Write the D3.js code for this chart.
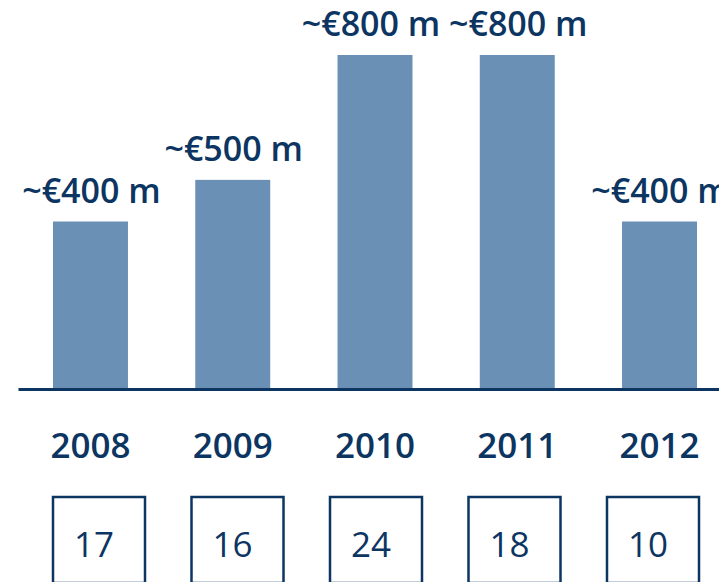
<!DOCTYPE html>
<html>
<head>
<meta charset="utf-8">
<script src="https://cdn.jsdelivr.net/npm/d3@7"></script>
<style>
  body { margin: 0; background: #fff; }
  svg { display: block; }
  text { font-family: "Open Sans", "Noto Sans", sans-serif; }
</style>
</head>
<body>
<div id="chart"></div>
<script>
// data
var years = ["2008", "2009", "2010", "2011", "2012"];
var volumes = [400, 500, 800, 800, 400];   // ~EUR million
var counts = [17, 16, 24, 18, 10];

var W = 719, H = 582;
var navy = "#0c3562";
var barColor = "#6b90b6";

var svg = d3.select("#chart").append("svg")
    .attr("width", W)
    .attr("height", H);

// x scale - band per year
var x = d3.scaleBand()
    .domain(years)
    .range([18, 732])
    .paddingInner(0.473)
    .paddingOuter(0.246);

// box centres sit on a slightly narrower spacing
var xBox = d3.scalePoint()
    .domain(years)
    .range([99, 653]);

// y scale
var baseline = 388;
var y = d3.scaleLinear()
    .domain([0, 800])
    .range([baseline, 55]);

// bars
svg.selectAll("rect.bar")
    .data(years)
    .enter()
    .append("rect")
    .attr("class", "bar")
    .attr("x", function(d) { return x(d); })
    .attr("width", x.bandwidth())
    .attr("y", function(d, i) { return y(volumes[i]); })
    .attr("height", function(d, i) { return baseline - y(volumes[i]); })
    .attr("fill", barColor);

// value labels
svg.selectAll("text.val")
    .data(years)
    .enter()
    .append("text")
    .attr("class", "val")
    .attr("x", function(d, i) { return x(d) + x.bandwidth() / 2 + (i == 2 ? -4 : 1); })
    .attr("y", function(d, i) { return y(volumes[i]) - 19; })
    .attr("text-anchor", "middle")
    .attr("fill", navy)
    .style("font-size", "34px")
    .style("font-weight", "600")
    .text(function(d, i) { return "~\u20ac" + volumes[i] + " m"; });

// baseline axis
var xAxis = d3.axisBottom(x).tickSize(0).tickPadding(44);
var axisG = svg.append("g")
    .attr("transform", "translate(0," + (baseline + 1) + ")")
    .call(xAxis);
axisG.select(".domain")
    .attr("stroke", navy)
    .attr("stroke-width", 3);
axisG.selectAll(".tick text")
    .attr("fill", navy)
    .style("font-family", "'Open Sans', 'Noto Sans', sans-serif")
    .style("font-size", "35px")
    .style("font-weight", "600");

// count boxes
var boxW = 92, boxTop = 497, boxH = 86;
var boxes = svg.selectAll("g.box")
    .data(years)
    .enter()
    .append("g")
    .attr("class", "box")
    .attr("transform", function(d) {
      return "translate(" + (xBox(d) - boxW / 2) + "," + boxTop + ")";
    });

boxes.append("rect")
    .attr("width", boxW)
    .attr("height", boxH)
    .attr("fill", "none")
    .attr("stroke", navy)
    .attr("stroke-width", 2.5);

boxes.append("text")
    .attr("x", boxW / 2 - 5)
    .attr("y", 60)
    .attr("text-anchor", "middle")
    .attr("fill", navy)
    .style("font-size", "35px")
    .style("font-weight", "400")
    .text(function(d, i) { return counts[i]; });
</script>
</body>
</html>
